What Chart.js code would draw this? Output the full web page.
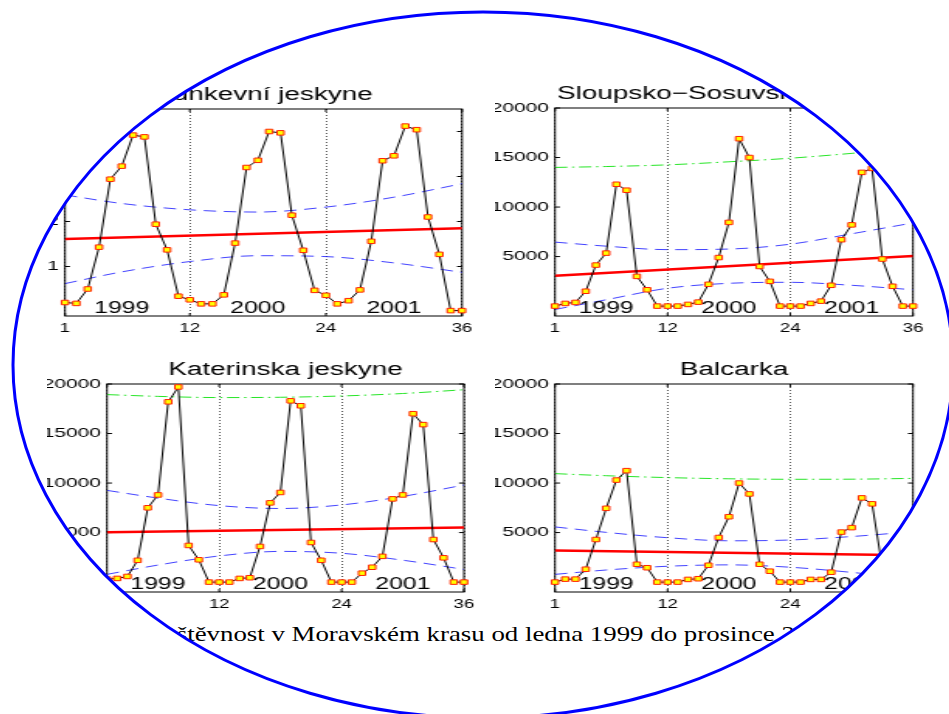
<!DOCTYPE html>
<html lang="cs">
<head>
<meta charset="utf-8">
<title>Návštěvnost jeskyní v Moravském krasu</title>
<script src="https://cdn.jsdelivr.net/npm/chart.js@4.4.1/dist/chart.umd.min.js"></script>
<style>
    html, body { margin: 0; padding: 0; background: #fff; }
    #stranka { position: relative; width: 949px; height: 714px; overflow: hidden; background: #fff; }
    #vyrez {
        position: absolute; left: 0; top: 0; width: 949px; height: 714px;
        clip-path: ellipse(470px 353px at 483px 365px);
        background: #fff;
    }
    #vyrez canvas { position: absolute; transform-origin: 0 0; }
    #popisek {
        position: absolute; top: 624px; left: 130px; display: block;
        font: 21px/21px "Liberation Serif", "Times New Roman", serif;
        white-space: nowrap; transform-origin: 0 0; color: #000;
    }
    #ramecek { position: absolute; left: 0; top: 0; }
</style>
</head>
<body>
<div id="stranka">
    <div id="vyrez">
        <span id="popisek">Návštěvnost v Moravském krasu od ledna 1999 do prosince 2001</span>
    </div>
    <canvas id="ramecek" width="949" height="714"></canvas>
</div>
<script>
// Měsíční návštěvnost jeskyní, leden 1999 – prosinec 2001
const mesice = [1, 2, 3, 4, 5, 6, 7, 8, 9, 10, 11, 12,
                13, 14, 15, 16, 17, 18, 19, 20, 21, 22, 23, 24,
                25, 26, 27, 28, 29, 30, 31, 32, 33, 34, 35, 36];
const xTicky = [1, 12, 24, 36];
const roky = ['1999', '2000', '2001'];
const rokyX = [6, 18, 30];

const punkevni = [2000, 1800, 5000, 14300, 29400, 32300, 39200, 38800, 19400, 13700, 3400, 2600,
                  1700, 1700, 3700, 15200, 32000, 33600, 40000, 39700, 21400, 13600, 4700, 3600,
                  1700, 2400, 4800, 15600, 33500, 34600, 41200, 40400, 21000, 12700, 200, 200];
const sloupsko = [0, 270, 370, 1500, 4140, 5350, 12300, 11700, 3000, 1650, 0, 0,
                  0, 170, 400, 2200, 4900, 8450, 16900, 15000, 4000, 2500, 0, 0,
                  0, 270, 500, 2100, 6700, 8200, 13500, 13900, 4750, 2000, 0, 0];
const katerinska = [300, 370, 570, 2200, 7500, 8800, 18200, 19700, 3700, 2250, 0, 0,
                    0, 370, 440, 3600, 8000, 9050, 18300, 17800, 4000, 2200, 0, 0,
                    0, 900, 1500, 2600, 8400, 8800, 17000, 15900, 4300, 2450, 0, 0];
const balcarka = [0, 300, 300, 1300, 4300, 7450, 10300, 11250, 1800, 1450, 0, 0,
                  0, 270, 340, 1700, 4500, 6600, 10000, 8900, 1800, 1100, 0, 0,
                  0, 270, 270, 1000, 5050, 5500, 8500, 7900, 1500, 1000, 0, 0];

// lineární trend (začátek a konec období)
const trendX = [1, 36];
const punkevniTrend = [16100, 18500];
const sloupskoTrend = [3060, 5050];
const katerinskaTrend = [5030, 5510];
const balcarkaTrend = [3190, 2710];

// intervaly spolehlivosti trendu a horní mez predikce
const pasmoX = [1, 6, 12, 18, 24, 30, 36];
const punkevniHorni = [25900, 24000, 22600, 22100, 23200, 25400, 28400];
const punkevniDolni = [6200, 8800, 11100, 12400, 12200, 10800, 8700];
const sloupskoHorni = [6460, 6050, 5700, 5760, 6250, 7300, 8400];
const sloupskoDolni = [-340, 640, 1800, 2300, 2400, 2100, 1650];
const sloupskoPredikce = [14000, 14090, 14260, 14570, 14930, 15420, 15990];
const katerinskaHorni = [9260, 8480, 7720, 7430, 7790, 8650, 9800];
const katerinskaDolni = [780, 1720, 2640, 3100, 2910, 2210, 1280];
const katerinskaPredikce = [18930, 18750, 18630, 18660, 18790, 19040, 19420];
const balcarkaHorni = [5570, 5020, 4480, 4170, 4250, 4600, 5090];
const balcarkaDolni = [780, 1220, 1600, 1740, 1500, 980, 330];
const balcarkaPredikce = [10950, 10740, 10550, 10430, 10380, 10390, 10470];

const yTickyMale = [5000, 10000, 15000, 20000];
const yTickyPunkevni = [10000, 20000, 30000, 40000];

console.log('📊 Kreslím návštěvnost jeskyní...');

// obrázek je vodorovně roztažený, grafy se kreslí užší a pak se natáhnou
const S = 1.55;
const LAB = 60, RP = 20, TOP = 36, BOT = 30;
const PISMO = '"Liberation Sans", Arial, Helvetica, sans-serif';

const body = (xs, ys) => xs.map((x, i) => ({ x: x, y: ys[i] }));

function osyPlugin(g) {
    return {
        id: 'osy',
        beforeDatasetsDraw(chart) {
            const { ctx, chartArea: a, scales } = chart;
            ctx.save();
            ctx.strokeStyle = '#000';
            ctx.lineWidth = 1;
            ctx.strokeRect(a.left, a.top, a.right - a.left, a.bottom - a.top);
            ctx.beginPath();
            g.yTicky.forEach(v => {
                const y = scales.y.getPixelForValue(v);
                ctx.moveTo(a.left, y); ctx.lineTo(a.left + 5 / S, y);
                ctx.moveTo(a.right, y); ctx.lineTo(a.right - 5 / S, y);
            });
            xTicky.forEach(v => {
                const x = scales.x.getPixelForValue(v);
                ctx.moveTo(x, a.bottom); ctx.lineTo(x, a.bottom - 3);
                ctx.moveTo(x, a.top); ctx.lineTo(x, a.top + 3);
            });
            ctx.stroke();
            ctx.restore();
        },
        afterDatasetsDraw(chart) {
            const { ctx, chartArea: a, scales } = chart;
            ctx.save();
            ctx.fillStyle = '#000';
            ctx.textAlign = 'center';
            ctx.textBaseline = 'alphabetic';
            ctx.font = '18px ' + PISMO;
            ctx.fillText(g.nazev, (a.left + a.right) / 2, a.top - 9);
            ctx.font = '16px ' + PISMO;
            roky.forEach((r, i) => {
                ctx.fillText(r, scales.x.getPixelForValue(rokyX[i]), a.bottom - 3);
            });
            ctx.restore();
        }
    };
}

function vytvorGraf(g) {
    const W0 = g.poloha.right - g.poloha.left;
    const H0 = g.poloha.bottom - g.poloha.top;
    const W = Math.ceil((W0 + LAB + RP) / S);
    const H = H0 + TOP + BOT;

    const canvas = document.createElement('canvas');
    canvas.width = W;
    canvas.height = H;
    canvas.style.left = (g.poloha.left - LAB) + 'px';
    canvas.style.top = (g.poloha.top - TOP) + 'px';
    canvas.style.width = W + 'px';
    canvas.style.height = H + 'px';
    canvas.style.transform = 'scaleX(' + S + ')';
    document.getElementById('vyrez').appendChild(canvas);

    const datasets = [
        {
            data: body(mesice, g.hodnoty),
            borderColor: '#000', borderWidth: 1, tension: 0,
            pointStyle: 'rect', pointRadius: 3.2, pointBorderWidth: 1,
            pointBackgroundColor: '#ffff00', pointBorderColor: '#ff2200',
            clip: false
        },
        {
            data: body(trendX, g.trend),
            borderColor: '#ff0000', borderWidth: 2.5, pointRadius: 0
        },
        {
            data: body(pasmoX, g.horni),
            borderColor: 'rgba(20, 20, 255, 0.8)', borderWidth: 1, borderDash: [8, 5],
            pointRadius: 0, cubicInterpolationMode: 'monotone'
        },
        {
            data: body(pasmoX, g.dolni),
            borderColor: 'rgba(20, 20, 255, 0.8)', borderWidth: 1, borderDash: [8, 5],
            pointRadius: 0, cubicInterpolationMode: 'monotone'
        }
    ];
    if (g.predikce) {
        datasets.push({
            data: body(pasmoX, g.predikce),
            borderColor: 'rgba(0, 225, 0, 0.85)', borderWidth: 1, borderDash: [8, 3, 1.5, 3],
            pointRadius: 0, cubicInterpolationMode: 'monotone'
        });
    }

    new Chart(canvas, {
        type: 'line',
        data: { datasets: datasets },
        options: {
            responsive: false,
            animation: false,
            devicePixelRatio: 1,
            layout: { padding: { left: 0, top: TOP, bottom: 0, right: W - (LAB + W0) / S } },
            plugins: {
                legend: { display: false },
                tooltip: { enabled: false },
                title: { display: false }
            },
            scales: {
                x: {
                    type: 'linear', min: 1, max: 36,
                    afterBuildTicks: s => { s.ticks = xTicky.map(v => ({ value: v })); },
                    afterFit: s => { s.height = BOT; },
                    grid: { display: true, drawTicks: false, color: '#555', lineWidth: 1 },
                    border: { display: false, dash: [1, 2] },
                    ticks: {
                        color: '#000', padding: 5, maxRotation: 0, autoSkip: false,
                        font: { family: PISMO, size: 12 }
                    }
                },
                y: {
                    type: 'linear', min: -1000, max: g.yMax,
                    afterBuildTicks: s => { s.ticks = g.yTicky.map(v => ({ value: v })); },
                    afterFit: s => { s.width = LAB / S; },
                    grid: { display: false, drawTicks: false },
                    border: { display: false },
                    ticks: {
                        color: '#000', padding: 4, autoSkip: false,
                        callback: v => String(v / g.delitel),
                        font: { family: PISMO, size: 13.5 }
                    }
                }
            }
        },
        plugins: [osyPlugin(g)]
    });
}

const grafy = [
    {
        nazev: 'Punkevní jeskyne', hodnoty: punkevni, trend: punkevniTrend,
        horni: punkevniHorni, dolni: punkevniDolni, predikce: null,
        yMax: 45000, yTicky: yTickyPunkevni, delitel: 10000,
        poloha: { left: 65, right: 462, top: 109, bottom: 316 }
    },
    {
        nazev: 'Sloupsko\u2212Sosuvské jeskyne', hodnoty: sloupsko, trend: sloupskoTrend,
        horni: sloupskoHorni, dolni: sloupskoDolni, predikce: sloupskoPredikce,
        yMax: 20000, yTicky: yTickyMale, delitel: 1,
        poloha: { left: 555, right: 913, top: 108, bottom: 316 }
    },
    {
        nazev: 'Katerinska jeskyne', hodnoty: katerinska, trend: katerinskaTrend,
        horni: katerinskaHorni, dolni: katerinskaDolni, predikce: katerinskaPredikce,
        yMax: 20000, yTicky: yTickyMale, delitel: 1,
        poloha: { left: 107, right: 464, top: 384, bottom: 592 }
    },
    {
        nazev: 'Balcarka', hodnoty: balcarka, trend: balcarkaTrend,
        horni: balcarkaHorni, dolni: balcarkaDolni, predikce: balcarkaPredikce,
        yMax: 20000, yTicky: yTickyMale, delitel: 1,
        poloha: { left: 555, right: 913, top: 384, bottom: 592 }
    }
];

grafy.forEach(vytvorGraf);

// popisek obrázku – šířka podle sazby
const popisek = document.getElementById('popisek');
const mc = document.createElement('canvas').getContext('2d');
mc.font = '21px "Liberation Serif", "Times New Roman", serif';
const k = 598 / mc.measureText('štěvnost v Moravském krasu od ledna 1999 do prosince').width;
popisek.style.left = (176.5 - mc.measureText('Náv').width * k) + 'px';
popisek.style.transform = 'scaleX(' + k + ')';

// modrý ovál přes celý obrázek
const r = document.getElementById('ramecek').getContext('2d');
r.strokeStyle = '#0000ff';
r.lineWidth = 3;
r.beginPath();
r.ellipse(483, 365, 470, 353, 0, 0, 2 * Math.PI);
r.stroke();

console.log('✅ Hotovo');
</script>
</body>
</html>
